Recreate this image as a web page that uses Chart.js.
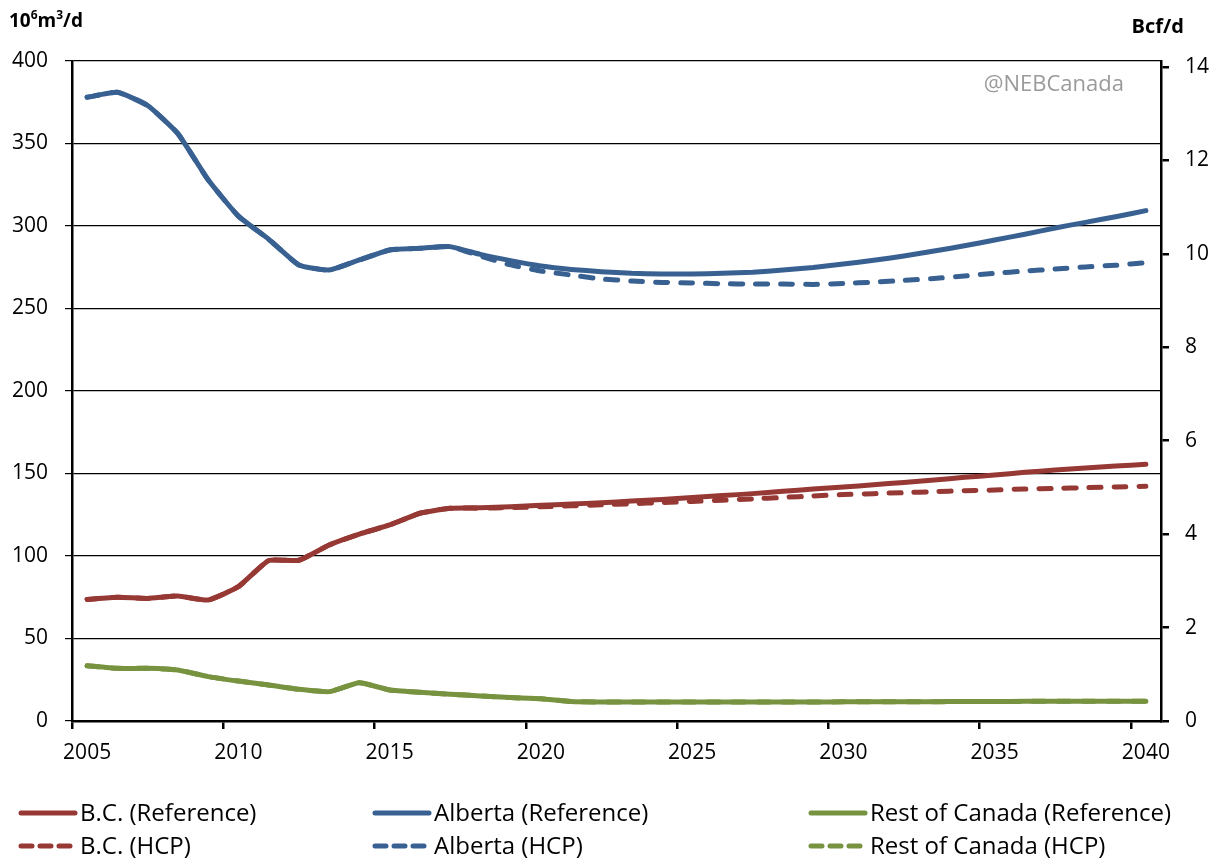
<!DOCTYPE html>
<html><head><meta charset="utf-8">
<script src="https://cdn.jsdelivr.net/npm/chart.js@4"></script>
<style>html,body{margin:0;padding:0;background:#fff;}#wrap{position:relative;width:1219px;height:858px;}</style>
</head><body><div id="wrap"><canvas id="c" width="1219" height="858"></canvas></div>
<script>
const years = [2005,2006,2007,2008,2009,2010,2011,2012,2013,2014,2015,2016,2017,2018,2019,2020,2021,2022,2023,2024,2025,2026,2027,2028,2029,2030,2031,2032,2033,2034,2035,2036,2037,2038,2039,2040];
const xTickLabels = [2005,2010,2015,2020,2025,2030,2035,2040];
const leftTicks = [0,50,100,150,200,250,300,350,400];
const rightTicks = [0,2,4,6,8,10,12,14];
const bcRef = [73.7,75,74.3,75.8,73.3,81.4,97.2,97.4,106.7,113.3,118.8,125.9,128.9,129.3,129.9,130.7,131.5,132.3,133.3,134.3,135.4,136.6,137.8,139.2,140.6,141.8,143.2,144.6,146,147.7,149.1,150.7,152.1,153.3,154.5,155.6];
const bcHcp = [73.7,75,74.3,75.8,73.3,81.4,97.2,97.4,106.7,113.3,118.8,125.9,128.9,129,129.3,129.8,130.4,131,131.7,132.4,133.1,133.8,134.6,135.5,136.4,137.2,137.8,138.4,139,139.6,140,140.6,141,141.4,141.8,142.2];
const abRef = [378,381,373,356,328,306,292,276.4,273.3,279.4,285.5,286.5,287.5,282.8,279,275.8,273.7,272.3,271.3,270.9,270.9,271.3,272,273.3,274.9,277,279.2,281.8,284.8,288,291.5,295,298.8,302.2,305.6,309.3];
const abHcp = [378,381,373,356,328,306,292,276.4,273.3,279.4,285.5,286.5,287.5,281.8,276.4,272.7,270.3,267.9,266.7,265.8,265.5,265,264.8,264.8,264.6,265.2,266,267,268.2,269.7,271.3,272.7,273.9,275.2,276.2,277.8];
const rocRef = [33.5,31.9,31.9,30.9,26.9,24.2,21.8,19.2,17.8,23.2,18.8,17.4,16.2,15.2,14.2,13.5,11.8,11.5,11.5,11.5,11.5,11.5,11.5,11.5,11.5,11.6,11.6,11.7,11.7,11.8,11.8,11.9,11.9,12,12,12];
const rocHcp = [33.5,31.9,31.9,30.9,26.9,24.2,21.8,19.2,17.8,23.2,18.8,17.4,16.2,15.2,14.2,13.5,11.8,11.5,11.5,11.5,11.5,11.5,11.5,11.5,11.5,11.6,11.6,11.7,11.7,11.8,11.8,11.9,11.9,12,12,12];
const seriesLabels = ['B.C. (Reference)','Alberta (Reference)','Rest of Canada (Reference)','B.C. (HCP)','Alberta (HCP)','Rest of Canada (HCP)'];
const M3_PER_BCF = 28.3168;

const RED = '#963834', BLUE = '#386192', GREEN = '#779340';
const FONT = "'Open Sans', sans-serif";
const DASH = [12,13];
function ds(label, data, color, dashed){
  return {label, data, borderColor: color, backgroundColor: color, borderWidth: 5,
    borderDash: dashed ? DASH : [], borderCapStyle: 'round', borderJoinStyle: 'round',
    pointRadius: 0, tension: 0.15, fill: false};
}
const datasets = [
  ds(seriesLabels[0], bcRef, RED, false),
  ds(seriesLabels[1], abRef, BLUE, false),
  ds(seriesLabels[2], rocRef, GREEN, false),
  ds(seriesLabels[3], bcHcp, RED, true),
  ds(seriesLabels[4], abHcp, BLUE, true),
  ds(seriesLabels[5], rocHcp, GREEN, true)
];

const extras = {
  id: 'extras',
  afterDraw(chart){
    const ctx = chart.ctx;
    ctx.save();
    ctx.fillStyle = '#000';
    ctx.textBaseline = 'alphabetic';
    ctx.textAlign = 'left';
    let x = 9; const base = 27;
    const parts = [['10',19,0],['6',12,8],['m',19,0],['3',12,8],['/d',19,0]];
    for (const [t,s,up] of parts){
      ctx.font = 'bold ' + s + 'px ' + FONT;
      ctx.fillText(t, x, base - up);
      x += ctx.measureText(t).width;
    }
    ctx.font = 'bold 20px ' + FONT;
    ctx.textAlign = 'right';
    ctx.fillText('Bcf/d', 1184, 33);
    ctx.font = '22px ' + FONT;
    ctx.fillStyle = '#9a9a9a';
    ctx.fillText('@NEBCanada', 1124, 91);
    const colX = [18, 372, 808];
    const rowY = [813, 846];
    ctx.font = '24px ' + FONT;
    ctx.textAlign = 'left';
    ctx.textBaseline = 'middle';
    chart.data.datasets.forEach((d,i)=>{
      const cx = colX[i%3], cy = rowY[Math.floor(i/3)];
      ctx.strokeStyle = d.borderColor;
      ctx.lineWidth = 5;
      ctx.lineCap = 'round';
      ctx.setLineDash(d.borderDash.length ? [11,8] : []);
      ctx.beginPath(); ctx.moveTo(cx+3, cy); ctx.lineTo(cx+57, cy); ctx.stroke();
      ctx.setLineDash([]);
      ctx.fillStyle = '#000';
      ctx.fillText(d.label, cx + 62, cy + 1);
    });
    ctx.restore();
  }
};

new Chart(document.getElementById('c'), {
  type: 'line',
  data: { labels: years.map(String), datasets },
  plugins: [extras],
  options: {
    responsive: false, animation: false, devicePixelRatio: 1,
    layout: { padding: { top: 61, left: 0, right: 0, bottom: 0 } },
    plugins: { legend: { display: false }, tooltip: { enabled: false } },
    scales: {
      x: {
        type: 'category', offset: true,
        afterFit(s){ s.height = 137; },
        grid: { offset: true, drawOnChartArea: false, drawTicks: true, tickLength: 8, lineWidth: 2.5,
          color: c => xTickLabels.includes(years[c.index]) ? '#000' : 'rgba(0,0,0,0)' },
        border: { display: true, color: '#000', width: 2.5 },
        ticks: { color: '#000', font: { family: FONT, size: 21 }, padding: 11, maxRotation: 0, minRotation: 0, autoSkip: false,
          callback: (v, i) => xTickLabels.includes(years[i]) ? String(years[i]) : '' }
      },
      y: {
        position: 'left', min: 0, max: 400,
        afterFit(s){ s.width = 72; },
        afterBuildTicks(s){ s.ticks = leftTicks.map(v=>({value: v})); },
        grid: { color: '#000', lineWidth: 1.2, tickLength: 7, drawTicks: true },
        border: { display: true, color: '#000', width: 2.5 },
        ticks: { color: '#000', font: { family: FONT, size: 21 }, padding: 17 }
      },
      y1: {
        position: 'right', min: 0, max: 400 / M3_PER_BCF,
        afterFit(s){ s.width = 58; },
        afterBuildTicks(s){ s.ticks = rightTicks.map(v=>({value: v})); },
        grid: { drawOnChartArea: false, color: '#000', lineWidth: 2.5, tickLength: 8, drawTicks: true },
        border: { display: true, color: '#000', width: 2.5 },
        ticks: { color: '#000', font: { family: FONT, size: 21 }, padding: 16 }
      }
    }
  }
});
</script></body></html>
